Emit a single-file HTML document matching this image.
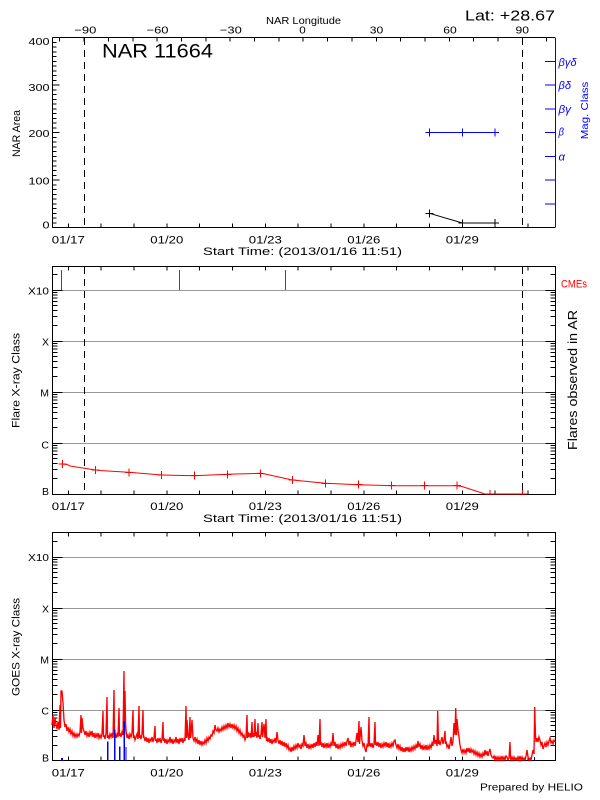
<!DOCTYPE html>
<html><head><meta charset="utf-8"><style>
html,body{margin:0;padding:0;background:#fff;}
svg{display:block;}
text{font-family:"Liberation Sans",sans-serif;}
</style></head><body>
<svg width="600" height="800" viewBox="0 0 600 800" xmlns="http://www.w3.org/2000/svg">
<rect width="600" height="800" fill="#fff"/>

<!-- ================= TOP PANEL ================= -->
<text x="266" y="24" font-size="10.5" textLength="75" lengthAdjust="spacingAndGlyphs">NAR Longitude</text>
<g font-size="10.5" text-anchor="middle">
<text x="85.3" y="33.3" textLength="22" lengthAdjust="spacingAndGlyphs">−90</text>
<text x="157.5" y="33.3" textLength="22" lengthAdjust="spacingAndGlyphs">−60</text>
<text x="230.8" y="33.3" textLength="22" lengthAdjust="spacingAndGlyphs">−30</text>
<text x="302.5" y="33.3" textLength="6.5" lengthAdjust="spacingAndGlyphs">0</text>
<text x="376.5" y="33.3" textLength="13.5" lengthAdjust="spacingAndGlyphs">30</text>
<text x="450" y="33.3" textLength="13.5" lengthAdjust="spacingAndGlyphs">60</text>
<text x="522.3" y="33.3" textLength="13.5" lengthAdjust="spacingAndGlyphs">90</text>
</g>
<text x="465" y="20.7" font-size="15" textLength="90" lengthAdjust="spacingAndGlyphs">Lat: +28.67</text>
<text x="102" y="57.3" font-size="19.5" textLength="111" lengthAdjust="spacingAndGlyphs">NAR 11664</text>

<g shape-rendering="crispEdges" stroke="#000" stroke-width="1" fill="none">
  <path d="M52.5,37.5 H555 M52.5,37.5 V227.5 H555"/>
  <path d="M52.5,227.5h7 M52.5,180h7 M52.5,132.5h7 M52.5,85h7 M52.5,37.5h7"/>
  <line x1="54.5" y1="228" x2="54.5" y2="37" stroke-width="4" stroke-dasharray="1 3.75"/>
  <line x1="67.8" y1="225.5" x2="555" y2="225.5" stroke-width="4" stroke-dasharray="1 31.83"/>
  <line x1="59.2" y1="39.5" x2="555" y2="39.5" stroke-width="4" stroke-dasharray="1 23.35"/>
</g>
<g shape-rendering="crispEdges" stroke="#00f" stroke-width="1" fill="none">
  <path d="M555.5,37.5 V227.5"/>
  <path d="M545,61.25h10 M545,85h10 M545,108.75h10 M545,132.5h10 M545,156.25h10 M545,180h10 M545,203.75h10"/>
</g>
<g stroke="#000" stroke-width="1" stroke-dasharray="7 5" shape-rendering="crispEdges">
  <line x1="84.5" y1="38" x2="84.5" y2="227"/>
  <line x1="522.5" y1="38" x2="522.5" y2="227"/>
</g>
<g stroke="#00f" stroke-width="1" fill="none" shape-rendering="crispEdges">
  <path d="M425.5,132.5 H499"/>
  <path d="M429.5,128.5v8 M462.3,128.5v8 M495.1,128.5v8"/>
</g>
<g stroke="#000" stroke-width="1" fill="none">
  <polyline points="429.5,213.3 462.3,223 495.1,223"/>
  <path d="M425.5,213.3h8 M429.5,209.3v8 M458.3,223h8 M462.3,219.5v7 M491.1,223h8 M495.1,219v8" shape-rendering="crispEdges"/>
</g>
<g font-size="10.5" text-anchor="end">
<text x="49.5" y="45" textLength="21" lengthAdjust="spacingAndGlyphs">400</text>
<text x="49.5" y="91" textLength="21" lengthAdjust="spacingAndGlyphs">300</text>
<text x="49.5" y="137" textLength="21" lengthAdjust="spacingAndGlyphs">200</text>
<text x="49.5" y="184.5" textLength="21" lengthAdjust="spacingAndGlyphs">100</text>
<text x="49.5" y="228.5" textLength="7" lengthAdjust="spacingAndGlyphs">0</text>
</g>
<text transform="translate(20,133.5) rotate(-90)" text-anchor="middle" font-size="11" textLength="47" lengthAdjust="spacingAndGlyphs">NAR Area</text>
<g fill="#00f" font-size="11" font-style="italic">
<text x="558.5" y="66" textLength="18" lengthAdjust="spacingAndGlyphs">βγδ</text>
<text x="558.5" y="89" textLength="12.5" lengthAdjust="spacingAndGlyphs">βδ</text>
<text x="558.5" y="113" textLength="12.5" lengthAdjust="spacingAndGlyphs">βγ</text>
<text x="558.5" y="135.5" textLength="5.5" lengthAdjust="spacingAndGlyphs">β</text>
<text x="558.5" y="160.5" textLength="6.5" lengthAdjust="spacingAndGlyphs">α</text>
</g>
<text transform="translate(588,110.5) rotate(-90)" text-anchor="middle" fill="#00f" font-size="10.5" textLength="57.6" lengthAdjust="spacingAndGlyphs">Mag. Class</text>
<g font-size="11" text-anchor="middle">
<text x="68.3" y="243.3" textLength="33" lengthAdjust="spacingAndGlyphs">01/17</text>
<text x="166.8" y="243.3" textLength="33" lengthAdjust="spacingAndGlyphs">01/20</text>
<text x="265.3" y="243.3" textLength="33" lengthAdjust="spacingAndGlyphs">01/23</text>
<text x="363.8" y="243.3" textLength="33" lengthAdjust="spacingAndGlyphs">01/26</text>
<text x="462.3" y="243.3" textLength="33" lengthAdjust="spacingAndGlyphs">01/29</text>
</g>
<text x="203" y="255" font-size="11" textLength="199" lengthAdjust="spacingAndGlyphs">Start Time: (2013/01/16 11:51)</text>

<!-- ================= MIDDLE PANEL ================= -->
<g shape-rendering="crispEdges" stroke="#999" stroke-width="1">
  <path d="M53,290.5 H555 M53,341.5 H555 M53,392.5 H555 M53,443.5 H555"/>
</g>
<g shape-rendering="crispEdges" stroke="#000" stroke-width="1" fill="none">
  <rect x="52.5" y="266.5" width="503" height="228"/>
  <path d="M52.5,443.5h10 M52.5,392.5h10 M52.5,341.5h10 M52.5,290.5h10 M555.5,443.5h-10 M555.5,392.5h-10 M555.5,341.5h-10 M555.5,290.5h-10"/>
  <path d="M52.5,478.6h5 M52.5,469.7h5 M52.5,463.3h5 M52.5,458.4h5 M52.5,454.3h5 M52.5,450.9h5 M52.5,447.9h5 M52.5,445.3h5
           M52.5,427.6h5 M52.5,418.7h5 M52.5,412.3h5 M52.5,407.4h5 M52.5,403.3h5 M52.5,399.9h5 M52.5,396.9h5 M52.5,394.3h5
           M52.5,376.6h5 M52.5,367.7h5 M52.5,361.3h5 M52.5,356.4h5 M52.5,352.3h5 M52.5,348.9h5 M52.5,345.9h5 M52.5,343.3h5
           M52.5,325.6h5 M52.5,316.7h5 M52.5,310.3h5 M52.5,305.4h5 M52.5,301.3h5 M52.5,297.9h5 M52.5,294.9h5 M52.5,292.3h5
           M52.5,274.6h5
           M555.5,478.6h-5 M555.5,469.7h-5 M555.5,463.3h-5 M555.5,458.4h-5 M555.5,454.3h-5 M555.5,450.9h-5 M555.5,447.9h-5 M555.5,445.3h-5
           M555.5,427.6h-5 M555.5,418.7h-5 M555.5,412.3h-5 M555.5,407.4h-5 M555.5,403.3h-5 M555.5,399.9h-5 M555.5,396.9h-5 M555.5,394.3h-5
           M555.5,376.6h-5 M555.5,367.7h-5 M555.5,361.3h-5 M555.5,356.4h-5 M555.5,352.3h-5 M555.5,348.9h-5 M555.5,345.9h-5 M555.5,343.3h-5
           M555.5,325.6h-5 M555.5,316.7h-5 M555.5,310.3h-5 M555.5,305.4h-5 M555.5,301.3h-5 M555.5,297.9h-5 M555.5,294.9h-5 M555.5,292.3h-5
           M555.5,274.6h-5"/>
  <line x1="67.8" y1="492.5" x2="555" y2="492.5" stroke-width="4" stroke-dasharray="1 31.83"/>
  <line x1="67.8" y1="268.5" x2="555" y2="268.5" stroke-width="4" stroke-dasharray="1 31.83"/>
</g>
<g stroke="#000" stroke-width="1" stroke-dasharray="7 5" shape-rendering="crispEdges">
  <line x1="84.5" y1="267" x2="84.5" y2="494"/>
  <line x1="522.5" y1="267" x2="522.5" y2="494"/>
</g>
<path d="M61.5,270V290 M179.5,270V290 M285.5,270V290" stroke="#ff0000" stroke-width="1" fill="none" shape-rendering="crispEdges"/>
<g stroke="#f00" stroke-width="1" fill="none">
  <polyline points="62.3,464 67,464.5 70,466 95.7,470 100,470.5 129,472.3 161.7,475 194.3,475.7 227.3,474.3 260.7,473.3 265,474 292.3,480 325.7,483.3 358.3,484.7 391.3,485.7 424.3,485.7 457,485.7 462,486.5 485,494 527,494"/>
  <path shape-rendering="crispEdges" d="M58.3,464h8 M62.3,460v8 M91.7,470h8 M95.7,466v8 M125,472.3h8 M129,468.3v8 M157.7,475h8 M161.7,471v8 M190.3,475.7h8 M194.3,471.7v8 M223.3,474.3h8 M227.3,470.3v8 M256.7,473.3h8 M260.7,469.3v8 M288.3,480h8 M292.3,476v8 M321.7,483.3h8 M325.7,479.3v8 M354.3,484.7h8 M358.3,480.7v8 M387.3,485.7h8 M391.3,481.7v8 M420.3,485.7h8 M424.3,481.7v8 M453,485.7h8 M457,481.7v8 M486,494h8 M490,490v4 M518.7,494h8 M522.7,490v4"/>
</g>
<g font-size="10.5" text-anchor="end">
<text x="49" y="294.3" textLength="21" lengthAdjust="spacingAndGlyphs">X10</text>
<text x="49" y="345.7">X</text>
<text x="49" y="396.7">M</text>
<text x="49" y="448.3">C</text>
<text x="49" y="495">B</text>
</g>
<text transform="translate(19.5,380.5) rotate(-90)" text-anchor="middle" font-size="11" textLength="95" lengthAdjust="spacingAndGlyphs">Flare X-ray Class</text>
<text transform="translate(577,380) rotate(-90)" text-anchor="middle" font-size="13" textLength="140" lengthAdjust="spacingAndGlyphs">Flares observed in AR</text>
<text x="561" y="287.3" fill="#f00" font-size="11" textLength="26" lengthAdjust="spacingAndGlyphs">CMEs</text>
<g font-size="11" text-anchor="middle">
<text x="68.3" y="510" textLength="33" lengthAdjust="spacingAndGlyphs">01/17</text>
<text x="166.8" y="510" textLength="33" lengthAdjust="spacingAndGlyphs">01/20</text>
<text x="265.3" y="510" textLength="33" lengthAdjust="spacingAndGlyphs">01/23</text>
<text x="363.8" y="510" textLength="33" lengthAdjust="spacingAndGlyphs">01/26</text>
<text x="462.3" y="510" textLength="33" lengthAdjust="spacingAndGlyphs">01/29</text>
</g>
<text x="203" y="522" font-size="11" textLength="199" lengthAdjust="spacingAndGlyphs">Start Time: (2013/01/16 11:51)</text>

<!-- ================= BOTTOM PANEL ================= -->
<g shape-rendering="crispEdges" stroke="#999" stroke-width="1">
  <path d="M53,557.5 H555 M53,608.5 H555 M53,659.5 H555 M53,710.5 H555"/>
</g>
<g shape-rendering="crispEdges" stroke="#000" stroke-width="1" fill="none">
  <rect x="52.5" y="532.5" width="503" height="228"/>
  <path d="M52.5,710.5h10 M52.5,659.5h10 M52.5,608.5h10 M52.5,557.5h10 M555.5,710.5h-10 M555.5,659.5h-10 M555.5,608.5h-10 M555.5,557.5h-10"/>
  <g transform="translate(0,267)">
  <path d="M52.5,478.6h5 M52.5,469.7h5 M52.5,463.3h5 M52.5,458.4h5 M52.5,454.3h5 M52.5,450.9h5 M52.5,447.9h5 M52.5,445.3h5
           M52.5,427.6h5 M52.5,418.7h5 M52.5,412.3h5 M52.5,407.4h5 M52.5,403.3h5 M52.5,399.9h5 M52.5,396.9h5 M52.5,394.3h5
           M52.5,376.6h5 M52.5,367.7h5 M52.5,361.3h5 M52.5,356.4h5 M52.5,352.3h5 M52.5,348.9h5 M52.5,345.9h5 M52.5,343.3h5
           M52.5,325.6h5 M52.5,316.7h5 M52.5,310.3h5 M52.5,305.4h5 M52.5,301.3h5 M52.5,297.9h5 M52.5,294.9h5 M52.5,292.3h5
           M52.5,274.6h5
           M555.5,478.6h-5 M555.5,469.7h-5 M555.5,463.3h-5 M555.5,458.4h-5 M555.5,454.3h-5 M555.5,450.9h-5 M555.5,447.9h-5 M555.5,445.3h-5
           M555.5,427.6h-5 M555.5,418.7h-5 M555.5,412.3h-5 M555.5,407.4h-5 M555.5,403.3h-5 M555.5,399.9h-5 M555.5,396.9h-5 M555.5,394.3h-5
           M555.5,376.6h-5 M555.5,367.7h-5 M555.5,361.3h-5 M555.5,356.4h-5 M555.5,352.3h-5 M555.5,348.9h-5 M555.5,345.9h-5 M555.5,343.3h-5
           M555.5,325.6h-5 M555.5,316.7h-5 M555.5,310.3h-5 M555.5,305.4h-5 M555.5,301.3h-5 M555.5,297.9h-5 M555.5,294.9h-5 M555.5,292.3h-5
           M555.5,274.6h-5"/>
  </g>
  <line x1="67.8" y1="758.5" x2="555" y2="758.5" stroke-width="4" stroke-dasharray="1 31.83"/>
  <line x1="67.8" y1="534.5" x2="555" y2="534.5" stroke-width="4" stroke-dasharray="1 31.83"/>
</g>
<polyline fill="none" stroke="#f00" stroke-width="1.35" stroke-linejoin="miter" points="52,725 53,716 54,728 55,718 56,724 57,729 58,722 59,730 60,705 60.5,728 61,691 62,691 63,703 64,720 65,727 66,724 67,731 68,727 69,732 70,729 71,734 72,731 73,736 74,733 75,737 76,734 77,737 78,734 79,736 80,732 81,715 81.5,733 82,718 83,728 84,731 85,735 86,731 87,736 88,733 89,737 90,732 91,735 92,731 93,737 94,733 95,738 96,734 97,737 98,733 99,738 100,735 101,738 102,734 103,711 103.5,737 104,735 105,739 106,734 107,697 107.5,738 108,735 109,739 110,734 111,737 112,733 113,738 114,690 114.5,737 115,733 116,738 117,734 118,737 119,708 119.5,736 120,733 121,737 122,732 123,735 124,671 124.5,735 125,691 125.5,722 126,730 127,738 128,735 129,739 130,734 131,737 132,733 133,710 133.5,738 134,735 135,740 136,737 137,734 138,739 139,706 139.5,738 140,735 141,739 142,734 143,710 143.5,738 144,737 145,741 146,737 147,742 148,738 149,743 150,739 151,741 152,737 153,742 154,738 155,726 155.5,741 156,739 157,743 158,738 159,742 160,738 161,743 162,739 163,722 163.5,741 164,738 165,743 166,739 167,744 168,740 169,742 170,737 171,743 172,739 173,744 174,740 175,742 176,737 177,743 178,739 179,744 180,738 181,742 182,738 183,743 184,739 185,741 186,706 186.5,738 187,720 188,736 189,740 190,717 190.5,738 191,735 192,720 193,738 194,741 195,737 196,742 197,739 198,744 199,740 200,745 201,741 202,745 203,742 204,744 205,740 206,743 207,738 208,741 209,737 210,739 211,735 212,736 213,731 214,733 215,725 216,730 217,731 218,728 219,732 220,729 221,731 222,727 223,730 224,726 225,729 226,725 227,728 228,723 229,727 230,724 231,728 232,724 233,728 234,725 235,729 236,726 237,731 238,728 239,733 240,730 241,735 242,733 243,737 244,735 245,740 246,737 247,715 247.5,738 248,732 249,737 250,733 251,738 252,722 252.5,737 253,733 254,737 255,719 255.5,736 256,732 257,738 258,723 258.5,737 259,735 260,739 261,734 262,722 262.5,737 263,733 264,724 265,738 266,719 266.5,741 267,737 268,742 269,738 270,743 271,739 272,744 273,740 274,742 275,738 276,743 277,732 278,740 279,744 280,740 281,745 282,741 283,746 284,742 285,747 286,743 287,748 288,745 289,750 290,748 291,752 292,747 293,751 294,746 295,749 296,745 297,748 298,743 299,747 300,745 301,749 302,744 303,746 304,735 305,746 306,743 307,748 308,744 309,749 310,745 311,748 312,744 313,748 314,743 315,747 316,742 317,746 318,735 319,746 320,719 320.5,745 321,742 322,747 323,743 324,748 325,744 326,747 327,743 328,748 329,744 330,747 331,743 332,746 333,733 334,746 335,742 336,748 337,744 338,749 339,745 340,748 341,744 342,747 343,743 344,746 345,742 346,746 347,741 348,738 349,745 350,741 351,747 352,743 353,746 354,742 355,746 356,741 357,733 358,742 359,721 359.5,744 360,738 361,727 362,741 363,746 364,743 365,749 366,752 367,745 368,747 369,717 369.5,746 370,743 371,747 372,743 373,748 374,744 375,722 375.5,745 376,742 377,746 378,742 379,747 380,743 381,748 382,744 383,747 384,743 385,746 386,742 387,747 388,743 389,748 390,744 391,747 392,743 393,746 394,741 395,740 396,745 397,748 398,744 399,749 400,746 401,751 402,747 403,752 404,748 405,752 406,747 407,751 408,747 409,752 410,748 411,751 412,747 413,750 414,746 415,749 416,745 417,748 418,741 419,747 420,744 421,749 422,745 423,750 424,746 425,749 426,745 427,750 428,746 429,749 430,745 431,748 432,743 433,746 434,735 435,744 436,740 437,746 437.7,711 438.5,744 439,740 440,745 441,741 442,737 443,744 444,740 445,731 445.5,744 446,741 447,747 448,745 449,749 450,744 451,737 452,746 453,741 454,723 455,735 455.7,708 456.5,735 457,719 458,730 459,737 460,745 461,750 462,753 463,749 464,753 465,750 466,753 467,748 468,752 469,748 470,753 471,749 472,752 473,750 474,754 475,751 476,755 477,752 478,756 479,753 480,757 481,754 482,757 483,753 484,756 485,750 486,755 487,751 488,756 489,752 490,749 491,755 492,757 493,758 494,756 495,760 496,757 497,760 498,757 499,760 500,757 501,760 502,756 503,760 504,757 505,760 506,756 507,757 508,760 509,758 510,742 510.5,758 511,760 512,757 513,760 514,757 515,760 516,758 517,760 518,757 519,760 520,756 521,760 522,757 523,760 524,758 525,760 526,756 527,750 528,757 529,760 530,758 531,760 532,755 533,750 534,754 534.7,707 535.5,736 536,742 537,738 538,742 539,737 540,740 541,745 542,742 543,749 544,746 545,743 546,747 547,742 548,745 549,741 550,738 551,743 552,741 553,744 554,740 555,742"/>
<g fill="#00f" shape-rendering="crispEdges">
  <rect x="61" y="758" width="2" height="3"/>
  <rect x="107" y="741.7" width="1.5" height="19"/>
  <rect x="114" y="729.3" width="1.5" height="31.4"/>
  <rect x="119" y="746.7" width="1.5" height="14"/>
  <rect x="123.7" y="721" width="1.5" height="39.7"/>
  <rect x="125.3" y="747" width="1.3" height="13.7"/>
  <rect x="455" y="757" width="1" height="3.7"/>
  <rect x="534" y="757" width="1" height="3.7"/>
</g>
<g font-size="10.5" text-anchor="end">
<text x="49" y="561" textLength="21" lengthAdjust="spacingAndGlyphs">X10</text>
<text x="49" y="612.3">X</text>
<text x="49" y="663.3">M</text>
<text x="49" y="714.3">C</text>
<text x="49" y="761.7">B</text>
</g>
<text transform="translate(19.5,647) rotate(-90)" text-anchor="middle" font-size="11" textLength="98" lengthAdjust="spacingAndGlyphs">GOES X-ray Class</text>
<g font-size="11" text-anchor="middle">
<text x="68.3" y="776.3" textLength="33" lengthAdjust="spacingAndGlyphs">01/17</text>
<text x="166.8" y="776.3" textLength="33" lengthAdjust="spacingAndGlyphs">01/20</text>
<text x="265.3" y="776.3" textLength="33" lengthAdjust="spacingAndGlyphs">01/23</text>
<text x="363.8" y="776.3" textLength="33" lengthAdjust="spacingAndGlyphs">01/26</text>
<text x="462.3" y="776.3" textLength="33" lengthAdjust="spacingAndGlyphs">01/29</text>
</g>
<text x="480" y="790.3" font-size="10.5" textLength="103" lengthAdjust="spacingAndGlyphs">Prepared by HELIO</text>
</svg>
</body></html>
